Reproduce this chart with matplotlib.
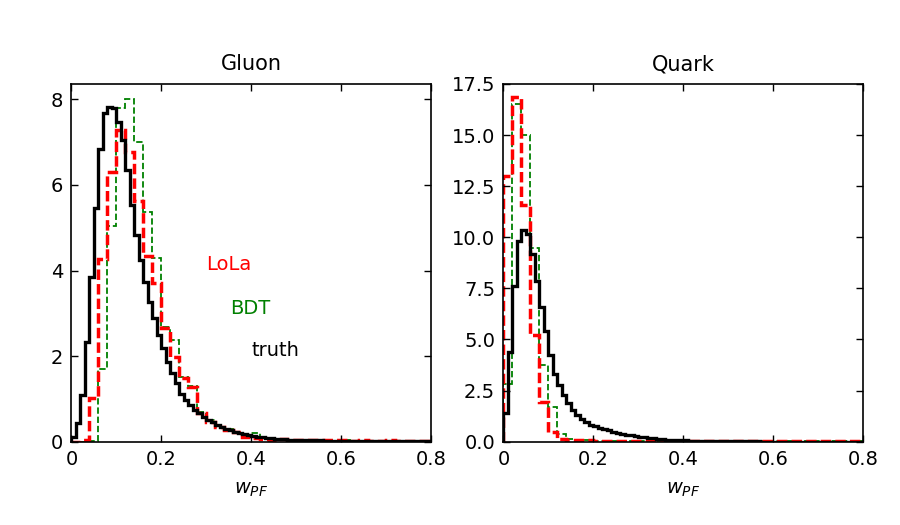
import matplotlib
matplotlib.use("Agg")
import matplotlib.pyplot as plt
import numpy as np

# bin edges: truth uses 0.01 bins, LoLa / BDT use 0.02 bins, range 0-0.8
edges_fine = np.linspace(0, 0.8, 81)
edges_coarse = np.linspace(0, 0.8, 41)

# ---- Gluon ----
gluon_truth = [0.12, 0.43, 1.09, 2.34, 3.86, 5.47, 6.83, 7.68, 7.82, 7.80,
               7.48, 7.05, 6.35, 5.53, 4.83, 4.25, 3.74, 3.27, 2.88, 2.49,
               2.18, 1.87, 1.60, 1.36, 1.12, 0.98, 0.86, 0.75, 0.66, 0.58,
               0.51, 0.45, 0.39, 0.35, 0.30, 0.27, 0.23, 0.20, 0.18, 0.16,
               0.14, 0.12, 0.10, 0.09, 0.08, 0.07, 0.06, 0.055, 0.05, 0.045,
               0.04, 0.038, 0.035, 0.032, 0.03, 0.028, 0.026, 0.024, 0.022, 0.02,
               0.019, 0.018, 0.017, 0.016, 0.015, 0.014, 0.013, 0.012, 0.012, 0.011,
               0.011, 0.010, 0.010, 0.009, 0.009, 0.008, 0.008, 0.008, 0.007, 0.007]
gluon_lola = [0.0, 0.03, 1.01, 4.27, 6.30, 7.28, 6.78, 5.62, 4.33, 3.70,
              2.65, 1.97, 1.50, 1.28, 0.67, 0.47, 0.35, 0.27, 0.22, 0.12,
              0.08, 0.06, 0.05, 0.06, 0.04, 0.05, 0.04, 0.03, 0.04, 0.03,
              0.03, 0.02, 0.03, 0.02, 0.02, 0.03, 0.02, 0.02, 0.02, 0.02]
gluon_bdt = [0.0, 0.0, 0.02, 1.71, 5.05, 7.79, 8.00, 7.00, 5.37, 4.29,
             2.67, 2.38, 1.52, 1.29, 0.70, 0.50, 0.35, 0.30, 0.22, 0.12,
             0.20, 0.06, 0.05, 0.04, 0.05, 0.03, 0.04, 0.03, 0.03, 0.02,
             0.03, 0.02, 0.02, 0.02, 0.02, 0.02, 0.01, 0.02, 0.01, 0.01]

# ---- Quark ----
quark_truth = [1.38, 4.40, 7.60, 9.82, 10.36, 10.15, 9.20, 7.85, 6.60, 5.40,
               4.24, 3.33, 2.76, 2.27, 1.89, 1.56, 1.31, 1.12, 0.95, 0.84,
               0.76, 0.68, 0.61, 0.55, 0.49, 0.44, 0.39, 0.35, 0.31, 0.27,
               0.24, 0.21, 0.18, 0.16, 0.14, 0.12, 0.10, 0.09, 0.08, 0.07,
               0.06, 0.05, 0.045, 0.04, 0.035, 0.03, 0.025, 0.02, 0.02, 0.015,
               0.015, 0.013, 0.012, 0.011, 0.010, 0.010, 0.009, 0.008, 0.008, 0.007,
               0.007, 0.006, 0.006, 0.006, 0.005, 0.005, 0.005, 0.004, 0.004, 0.004,
               0.004, 0.003, 0.003, 0.003, 0.003, 0.003, 0.002, 0.002, 0.002, 0.002]
quark_lola = [13.0, 16.85, 11.6, 5.20, 1.95, 0.45, 0.15, 0.10, 0.08, 0.06,
              0.05, 0.05, 0.04, 0.04, 0.03, 0.03, 0.03, 0.02, 0.02, 0.02,
              0.02, 0.02, 0.02, 0.01, 0.02, 0.01, 0.01, 0.01, 0.01, 0.01,
              0.01, 0.01, 0.01, 0.01, 0.01, 0.01, 0.01, 0.01, 0.01, 0.01]
quark_bdt = [2.80, 16.5, 15.0, 9.50, 3.74, 1.69, 0.39, 0.12, 0.08, 0.06,
             0.05, 0.04, 0.04, 0.03, 0.03, 0.02, 0.02, 0.02, 0.02, 0.01,
             0.01, 0.01, 0.01, 0.01, 0.01, 0.01, 0.01, 0.01, 0.01, 0.01,
             0.01, 0.01, 0.01, 0.01, 0.01, 0.01, 0.01, 0.01, 0.01, 0.01]

xticks = [0, 0.2, 0.4, 0.6, 0.8]
xticklabels = ["0", "0.2", "0.4", "0.6", "0.8"]
gluon_yticks = [0, 2, 4, 6, 8]
gluon_yticklabels = ["0", "2", "4", "6", "8"]
quark_yticks = [0, 2.5, 5, 7.5, 10, 12.5, 15, 17.5]
quark_yticklabels = ["0.0", "2.5", "5.0", "7.5", "10.0", "12.5", "15.0", "17.5"]

fig = plt.figure(figsize=(9, 5.25), dpi=100)
ax1 = fig.add_axes([0.0794, 0.1587, 0.4, 0.6813])
ax2 = fig.add_axes([0.5594, 0.1587, 0.4, 0.6813])


def draw(ax, truth, lola, bdt):
    ax.stairs(bdt, edges_coarse, color="green", lw=1.3, linestyle=(0, (3.5, 1.6)))
    ax.stairs(lola, edges_coarse, color="red", lw=2.5, linestyle=(0, (3, 1.2)))
    ax.stairs(truth, edges_fine, color="black", lw=2.4)
    ax.set_xlim(0, 0.8)
    ax.set_xticks(xticks)
    ax.set_xticklabels(xticklabels)
    ax.set_xlabel("$w_{PF}$", fontsize=14, labelpad=8)
    ax.tick_params(direction="in", top=True, right=True, length=5, width=1,
                   labelsize=14, pad=6)
    for s in ax.spines.values():
        s.set_linewidth(1.2)


draw(ax1, gluon_truth, gluon_lola, gluon_bdt)
ax1.set_ylim(0, 8.36)
ax1.set_yticks(gluon_yticks)
ax1.set_yticklabels(gluon_yticklabels)
ax1.set_title("Gluon", fontsize=15, pad=10)
ax1.text(0.30, 4.13, "LoLa", color="red", fontsize=14, va="center")
ax1.text(0.352, 3.12, "BDT", color="green", fontsize=14, va="center")
ax1.text(0.40, 2.14, "truth", color="black", fontsize=14, va="center")

draw(ax2, quark_truth, quark_lola, quark_bdt)
ax2.set_ylim(0, 17.5)
ax2.set_yticks(quark_yticks)
ax2.set_yticklabels(quark_yticklabels)
ax2.set_title("Quark", fontsize=15, pad=10)

fig.savefig("out.png", dpi=100)
